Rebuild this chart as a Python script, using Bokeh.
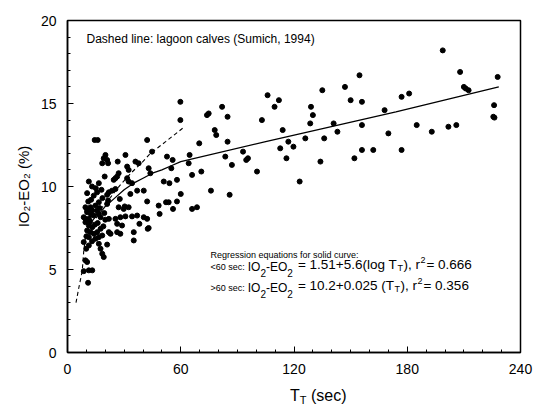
from bokeh.plotting import figure
from bokeh.models import Range1d, Label, FixedTicker, Div
from bokeh.layouts import column
from bokeh.embed import file_html
from bokeh.resources import INLINE

# ---- data ----
t_sec = [
    14.4, 16.0, 11.3, 16.6, 19.7, 13.0, 15.0, 18.0,
    10.4, 13.9, 15.7, 21.0, 21.9, 23.6, 12.5, 11.0, 18.5,
    9.5, 12.2, 10.4, 14.8, 16.6, 21.0, 21.5, 17.0,
    8.6, 11.3, 13.1, 15.7, 14.0, 16.6, 17.5, 21.9, 10.4, 9.5, 19.5, 12.5, 20.0,
    9.5, 11.3, 13.1, 10.4, 12.2, 14.0, 15.7, 17.5, 16.6, 18.4, 14.8, 11.3, 21.9, 22.8,
    12.0, 14.5, 16.0, 19.0, 10.0, 13.0,
    8.6, 11.3, 16.6, 17.5, 18.4, 19.2, 21.0, 9.9,
    9.5, 10.4, 8.6, 11.3, 13.1, 10.9,
    20.1, 19.2, 21.0, 18.4, 21.5, 26.6, 30.7, 36.0, 37.7, 31.6, 32.4, 27.1, 26.3,
    25.4, 24.5, 31.6, 32.4, 34.2, 40.4, 36.9, 25.4, 27.7, 30.3, 32.4, 33.3, 29.8, 27.1,
    25.4, 28.0, 30.7, 34.2, 36.9, 40.4, 38.1, 42.5, 28.9, 26.3, 26.3, 28.0, 35.1, 35.1,
    42.2, 44.8, 52.7, 55.7, 64.7, 64.2, 43.0, 43.9, 55.0, 51.0, 54.0, 58.0, 66.0, 70.9,
    60.0, 76.0, 85.9, 42.2, 48.3, 52.2, 53.6, 58.0, 48.8, 55.9, 66.0, 68.6, 42.2, 43.0,
    59.8, 59.8, 73.9, 74.8, 81.9, 84.8, 78.0, 78.8, 69.8, 84.8, 83.6, 87.1, 93.0, 95.6,
    94.7, 100.4,
    103.0, 106.0, 109.7, 112.0, 114.0, 112.7, 116.0, 117.0, 119.7, 123.0, 126.0, 128.6,
    130.0, 129.0, 134.0, 135.0, 136.0, 141.0, 143.0, 147.0, 150.0, 154.7, 156.0, 156.0,
    152.0, 156.0, 162.0, 168.0, 170.0, 177.0, 181.0, 177.0, 185.0, 193.0, 198.8, 201.8,
    206.0, 208.0, 210.0, 211.0, 212.5, 227.9, 226.0, 225.6, 226.2,
]
o2_diff = [
    12.8, 12.8, 10.3, 10.2, 10.6, 10.0, 9.9, 9.8,
    9.6, 9.45, 9.65, 9.5, 9.65, 9.75, 9.2, 9.1, 9.3,
    8.75, 8.75, 8.55, 8.85, 9.05, 8.95, 9.15, 8.7,
    8.15, 8.05, 8.55, 8.55, 8.25, 8.35, 8.15, 8.05, 8.45, 8.05, 8.4, 8.3, 8.0,
    7.85, 7.65, 7.55, 7.35, 7.25, 7.15, 7.25, 7.45, 6.95, 7.05, 6.85, 6.95, 7.25, 7.15,
    7.9, 7.7, 7.8, 7.6, 7.0, 6.7,
    6.65, 6.45, 6.55, 6.25, 5.95, 5.75, 6.5, 6.25,
    5.55, 5.45, 4.9, 4.95, 4.95, 4.2,
    11.9, 11.7, 11.6, 11.4, 11.4, 11.5, 11.9, 11.5, 11.4, 11.2, 11.0, 10.8, 10.6,
    10.5, 10.4, 10.5, 10.3, 10.2, 9.75, 9.75, 9.85, 9.25, 8.8, 8.75, 9.55, 8.65, 8.75,
    8.05, 8.15, 8.2, 8.2, 8.25, 8.15, 7.75, 7.45, 7.65, 7.75, 7.25, 7.15, 7.25, 6.75,
    12.8, 12.1, 11.8, 11.6, 11.9, 11.4, 11.1, 10.8, 11.1, 10.3, 10.2, 10.4, 10.7, 10.9,
    9.55, 9.75, 9.5, 9.1, 8.85, 9.05, 9.05, 9.1, 8.35, 8.65, 8.65, 8.75, 8.05, 7.5,
    15.1, 14.0, 14.3, 14.4, 14.8, 14.2, 13.4, 13.1, 12.6, 12.7, 11.8, 11.3, 12.1, 11.7,
    11.6, 10.9,
    14.0, 15.5, 14.8, 15.2, 13.4, 12.3, 11.7, 12.7, 12.4, 10.3, 12.9, 13.8,
    14.3, 14.8, 11.5, 15.8, 12.9, 13.8, 13.3, 16.0, 15.2, 16.7, 15.1, 13.7,
    11.7, 12.2, 12.2, 14.6, 13.2, 15.4, 15.6, 12.2, 13.7, 13.3, 18.2, 13.6,
    13.7, 16.9, 16.0, 15.9, 15.8, 16.6, 14.9, 14.2, 14.15,
]
solid_t = [15, 20, 25, 30, 35, 40, 45, 50, 55, 60, 105, 174, 228.5]
solid_o2 = [8.1, 8.8, 9.3, 9.8, 10.2, 10.5, 10.8, 11.0, 11.25, 11.5, 12.7, 14.5, 16.0]
dashed_t = [4.5, 6.0, 7.8, 8.6, 9.5, 13.0, 18.4, 22.8, 28.0, 34.0, 39.5, 44.0, 52.0, 62.0]
dashed_o2 = [3.0, 3.9, 4.9, 6.1, 6.9, 7.9, 8.75, 9.35, 10.1, 10.85, 11.45, 12.0, 12.7, 13.6]
x_ticks = [0, 60, 120, 180, 240]
y_ticks = [0, 5, 10, 15, 20]

W, H = 534, 405
DIV_H = 17
FIG_H = H - DIV_H
L, R, T, B = 67, 14, 20, FIG_H - 352
XMAX, YMAX = 240, 20
FONT = "Liberation Sans"

p = figure(width=W, height=FIG_H, output_backend="svg", toolbar_location=None,
           x_range=Range1d(0, XMAX), y_range=Range1d(0, YMAX),
           min_border_left=L, min_border_right=R, min_border_top=T, min_border_bottom=B)
p.xgrid.visible = False
p.ygrid.visible = False
p.outline_line_color = "black"
p.outline_line_width = 1.5
p.background_fill_color = "white"
p.border_fill_color = "white"

p.xaxis.ticker = FixedTicker(ticks=x_ticks, minor_ticks=list(range(0, 241, 10)))
p.yaxis.ticker = FixedTicker(ticks=y_ticks, minor_ticks=list(range(0, 21, 1)))
for ax in (p.xaxis[0], p.yaxis[0]):
    ax.axis_line_width = 1.5
    ax.axis_line_color = "black"
    ax.major_tick_in = 6
    ax.major_tick_out = 0
    ax.minor_tick_in = 3
    ax.minor_tick_out = 0
    ax.major_tick_line_color = "black"
    ax.minor_tick_line_color = "black"
    ax.major_label_text_font = FONT
    ax.major_label_text_font_size = "14px"
    ax.major_label_text_color = "black"
p.xaxis.major_label_standoff = 11
p.yaxis.major_label_standoff = 11
p.yaxis.axis_label = "IO\u2082-EO\u2082 (%)"
p.yaxis.axis_label_text_font = FONT
p.yaxis.axis_label_text_font_style = "normal"
p.yaxis.axis_label_text_font_size = "15px"
p.yaxis.axis_label_text_color = "black"
p.yaxis.axis_label_standoff = 6

p.scatter(t_sec, o2_diff, marker="circle", size=5, color="black")
p.line(solid_t, solid_o2, line_color="black", line_width=1.3)
p.line(dashed_t, dashed_o2, line_color="black", line_width=1.1, line_dash="4 3")

# Arial/Liberation Sans advance widths (per 1000 em)
AW = {" ": 278, "(": 333, ")": 333, "+": 584, ",": 278, "-": 333, ".": 278, ":": 278,
      "<": 584, "=": 584, ">": 584, "E": 667, "I": 278, "O": 778, "T": 611, "R": 722,
      "a": 556, "c": 500, "d": 556, "e": 556, "f": 278, "g": 556, "i": 222, "l": 222,
      "n": 556, "o": 556, "q": 556, "r": 333, "s": 500, "t": 278, "u": 556, "v": 500}


def width(s, size):
    return sum(AW.get(ch, 556) for ch in s) * size / 1000.0


def X(px):
    return (px - L) * XMAX / (W - L - R)


def Y(py):
    return (FIG_H - B - py) * YMAX / (FIG_H - T - B)


def txt(px, py, s, size):
    p.add_layout(Label(x=X(px), y=Y(py), text=s, text_font=FONT,
                       text_font_size=f"{size}px", text_color="black",
                       text_baseline="alphabetic", text_align="left"))
    return px + width(s, size)


def chain(x0, pieces):
    x = x0
    for s, size, py, gap in pieces:
        x = txt(x + gap, py, s, size)
    return x


txt(86, 38, "Dashed line: lagoon calves (Sumich, 1994)", 12)
txt(210, 254, "Regression equations for solid curve:", 9)

BIG, SUB, RHS, SS = 12, 10, 13.5, 9
for yb, lead, rhs_a, rhs_b in [(266, "<60 sec:", "= 1.51+5.6(log T", "= 0.666"),
                               (287, ">60 sec:", "= 10.2+0.025 (T", "= 0.356")]:
    x = txt(210, yb, lead, 9)
    x = chain(x, [("IO", BIG, yb, 3), ("2", SUB, yb + 6, 0),
                  ("-EO", BIG, yb, 0), ("2", SUB, yb + 6, 0)])
    chain(x, [(rhs_a, RHS, yb - 2, 5), ("T", SS, yb + 1, 0.5), ("), r", RHS, yb - 2, 0.5),
              ("2", SS, yb - 7, 0.5), (rhs_b, RHS, yb - 2, 1)])

xlabel = Div(
    text=("<div style=\"position:absolute; left:290px; top:0px; white-space:nowrap; "
          "font-family:'Liberation Sans'; font-size:16px; line-height:16px; color:black;\">"
          "T<span style=\"font-size:11px; position:relative; top:3px;\">T</span> (sec)</div>"),
    width=W, height=DIV_H, margin=(0, 0, 0, 0),
    styles={"position": "relative"})

layout = column(p, xlabel, spacing=0)
open("out.html", "w").write(file_html(layout, INLINE))
